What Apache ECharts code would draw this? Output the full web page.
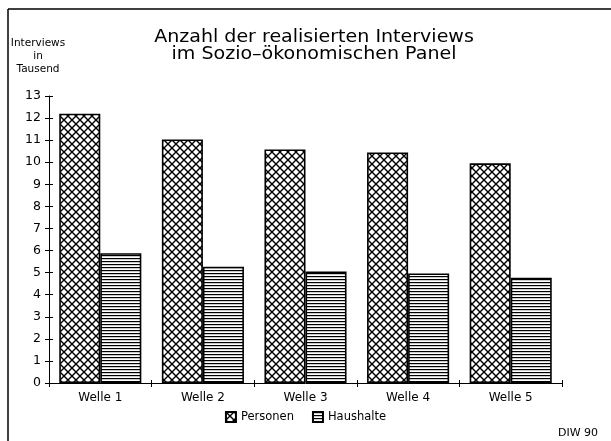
<!DOCTYPE html>
<html>
<head>
<meta charset="utf-8">
<script src="https://cdn.jsdelivr.net/npm/echarts@6/dist/echarts.min.js"></script>
<style>html,body{margin:0;padding:0;background:#fff}#c{width:611px;height:441px}</style>
</head>
<body>
<div id="c"></div>
<script>
const categories = ['Welle 1', 'Welle 2', 'Welle 3', 'Welle 4', 'Welle 5'];
const personen = [12.2, 11.03, 10.58, 10.44, 9.95];
const haushalte = [5.88, 5.27, 5.05, 4.96, 4.77];
const yTicks = [0, 1, 2, 3, 4, 5, 6, 7, 8, 9, 10, 11, 12, 13];
const titleText = 'Anzahl der realisierten Interviews\nim Sozio\u2013ökonomischen Panel';

function crossPattern() {
  const s = 8, c = document.createElement('canvas');
  c.width = s; c.height = s;
  const g = c.getContext('2d');
  g.fillStyle = '#fff'; g.fillRect(0, 0, s, s);
  g.strokeStyle = '#000'; g.lineWidth = 1.4;
  g.beginPath();
  g.moveTo(-1, -1); g.lineTo(s + 1, s + 1);
  g.moveTo(s + 1, -1); g.lineTo(-1, s + 1);
  g.stroke();
  return c;
}
function hPattern() {
  const c = document.createElement('canvas');
  c.width = 8; c.height = 3;
  const g = c.getContext('2d');
  g.fillStyle = '#fff'; g.fillRect(0, 0, 8, 3);
  g.fillStyle = '#000'; g.fillRect(0, 0, 8, 1.2);
  return c;
}

const font = 'DejaVu Sans';
const chart = echarts.init(document.getElementById('c'), null, {renderer: 'canvas'});
chart.setOption({
  animation: false,
  textStyle: {fontFamily: font, color: '#000'},
  legend: {
    bottom: 13, left: 'center', itemGap: 18, itemWidth: 10, itemHeight: 10, icon: 'rect',
    textStyle: {fontFamily: font, fontSize: 11.5, color: '#000'},
    data: ['Personen', 'Haushalte']
  },
  grid: {left: 49, right: 49, top: 96, bottom: 58},
  xAxis: [{
    type: 'category', data: categories,
    axisLine: {lineStyle: {color: '#000', width: 1}},
    axisTick: {show: true, length: 4, lineStyle: {color: '#000'}},
    axisLabel: {fontFamily: font, fontSize: 12, color: '#000', margin: 9}
  }, {
    type: 'category', data: categories, position: 'bottom', gridIndex: 0,
    axisLine: {show: false},
    axisTick: {show: true, inside: true, length: 3, lineStyle: {color: '#000'}},
    axisLabel: {show: false}
  }],
  yAxis: [{
    type: 'value', min: 0, max: 13, interval: 1,
    axisLine: {show: true, lineStyle: {color: '#000', width: 1}},
    axisTick: {show: true, length: 4, lineStyle: {color: '#000'}},
    axisLabel: {fontFamily: font, fontSize: 12.5, color: '#000', margin: 8,
      formatter: v => yTicks.includes(v) ? String(v) : ''},
    splitLine: {show: false}
  }, {
    type: 'value', min: 0, max: 13, interval: 1, position: 'left',
    axisLine: {show: false},
    axisTick: {show: true, inside: true, length: 4, lineStyle: {color: '#000'}},
    axisLabel: {show: false},
    splitLine: {show: false}
  }],
  series: [{
    name: 'Personen', type: 'bar', data: personen,
    barGap: '0%', barCategoryGap: '20%',
    itemStyle: {color: {image: crossPattern(), repeat: 'repeat'}, borderColor: '#000', borderWidth: 1.6}
  }, {
    name: 'Haushalte', type: 'bar', data: haushalte,
    itemStyle: {color: {image: hPattern(), repeat: 'repeat'}, borderColor: '#000', borderWidth: 1.6}
  }],
  graphic: [
    {type: 'line', shape: {x1: 8, y1: 9, x2: 611, y2: 9}, style: {stroke: '#000', lineWidth: 1.5}},
    {type: 'line', shape: {x1: 8, y1: 9, x2: 8, y2: 441}, style: {stroke: '#000', lineWidth: 1.5}},
    {type: 'text', x: 314, y: 29, scaleX: 1.12, style: {text: titleText, align: 'center', font: '17px "DejaVu Sans"', lineHeight: 17, fill: '#000'}},
    {type: 'text', x: 38, y: 37, style: {text: 'Interviews\nin\nTausend', align: 'center', font: '10.5px "DejaVu Sans"', lineHeight: 13, fill: '#000'}},
    {type: 'text', x: 558, y: 428, style: {text: 'DIW 90', font: '11px "DejaVu Sans"', fill: '#000'}}
  ]
});
</script>
</body>
</html>
